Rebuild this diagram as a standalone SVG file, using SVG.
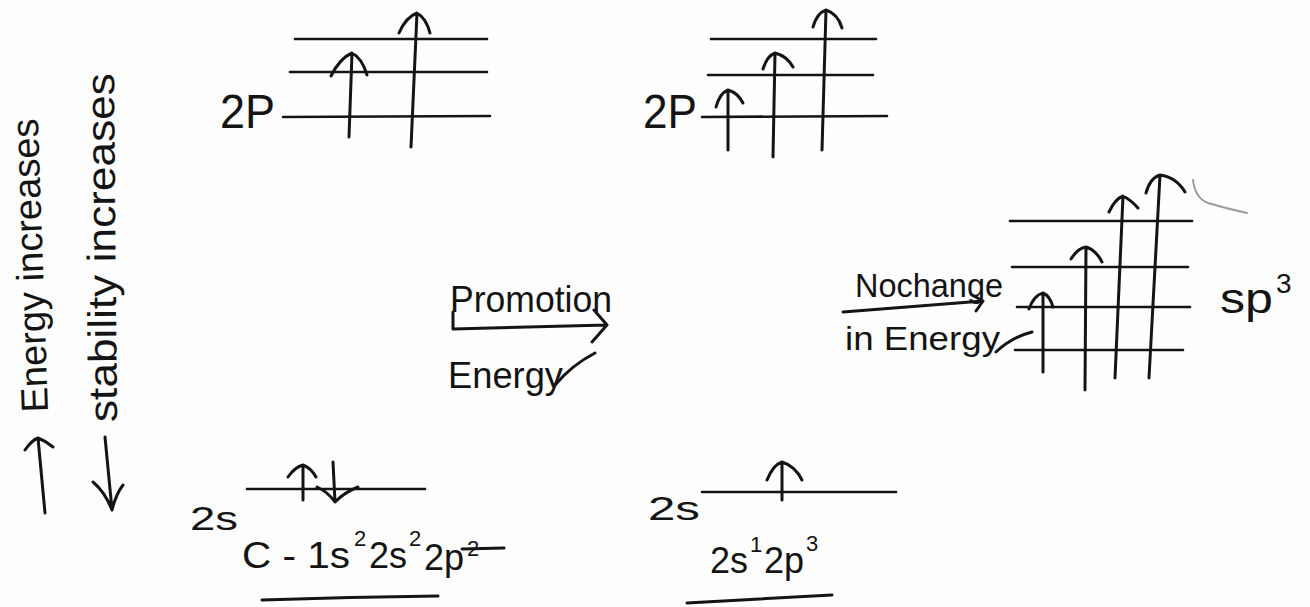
<svg xmlns="http://www.w3.org/2000/svg" width="1310" height="607" viewBox="0 0 1310 607">
<style>
.ink{fill:none;stroke:#141414;stroke-width:3;stroke-linecap:round;stroke-linejoin:round}
.lvl{fill:none;stroke:#141414;stroke-width:2.6;stroke-linecap:round}
.t{font-family:"Liberation Sans","DejaVu Sans",sans-serif;fill:#141414}
.faint{fill:none;stroke:#9a9a9a;stroke-width:2;stroke-linecap:round}
</style>
<rect width="1310" height="607" fill="#fefefe"/>

<g id="energy-axis">
  <text class="t" font-size="38" transform="translate(48,412) rotate(-92)" textLength="294" lengthAdjust="spacingAndGlyphs">Energy increases</text>
  <path class="ink" d="M45,513 L38,438 M25,450 Q32,440 38,438 Q46,441 53,447"/>
</g>

<g id="stability-axis">
  <text class="t" font-size="40" transform="translate(117,422) rotate(-90.5)" textLength="349" lengthAdjust="spacingAndGlyphs">stability increases</text>
  <path class="ink" d="M105,437 L112,510 M93,482 Q105,492 112,510 Q116,494 123,485"/>
</g>

<g id="ground-2p">
  <text class="t" font-size="48" x="220" y="128" textLength="55" lengthAdjust="spacingAndGlyphs">2P</text>
  <line class="lvl" x1="295" y1="39" x2="487" y2="39"/>
  <line class="lvl" x1="290" y1="72" x2="487" y2="72"/>
  <line class="lvl" x1="283" y1="117" x2="490" y2="116"/>
  <path class="ink" d="M349,137 L352,53 M331,76 Q340,58 352,53 Q362,58 367,75"/>
  <path class="ink" d="M411,147 L417,13 M399,33 Q406,17 417,13 Q426,18 430,33"/>
</g>

<g id="excited-2p">
  <text class="t" font-size="48" x="643" y="128" textLength="54" lengthAdjust="spacingAndGlyphs">2P</text>
  <line class="lvl" x1="711" y1="39" x2="876" y2="39"/>
  <line class="lvl" x1="708" y1="75" x2="873" y2="75"/>
  <line class="lvl" x1="702" y1="117" x2="887" y2="116"/>
  <path class="ink" d="M728,150 L728,90 M716,107 Q720,93 728,90 Q738,93 743,103"/>
  <path class="ink" d="M773,157 L775,53 M763,69 Q767,56 775,53 Q787,56 793,67"/>
  <path class="ink" d="M822,150 L826,10 M813,27 Q817,13 826,10 Q838,14 842,28"/>
</g>

<g id="sp3">
  <line class="lvl" x1="1010" y1="221" x2="1192" y2="221"/>
  <line class="lvl" x1="1012" y1="267" x2="1188" y2="267"/>
  <line class="lvl" x1="1017" y1="307" x2="1190" y2="307"/>
  <line class="lvl" x1="1015" y1="350" x2="1183" y2="350"/>
  <path class="ink" d="M1043,372 L1043,293 M1029,309 Q1034,295 1043,293 Q1050,296 1053,307"/>
  <path class="ink" d="M1085,390 L1086,247 M1071,259 Q1078,248 1086,247 Q1096,250 1102,262"/>
  <path class="ink" d="M1115,378 L1123,196 M1109,212 Q1115,199 1123,196 Q1131,200 1138,208"/>
  <path class="ink" d="M1149,378 L1160,175 M1146,193 Q1150,178 1160,175 Q1176,177 1185,192"/>
  <path class="faint" d="M1193,180 Q1195,198 1208,203 Q1228,209 1247,213"/>
  <text class="t" font-size="42" x="1220" y="313" textLength="53" lengthAdjust="spacingAndGlyphs">sp</text>
  <text class="t" font-size="28" x="1276" y="293">3</text>
</g>

<g id="ground-2s">
  <text class="t" font-size="34" x="190" y="530" textLength="48" lengthAdjust="spacingAndGlyphs">2s</text>
  <line class="lvl" x1="247" y1="489" x2="425" y2="489"/>
  <path class="ink" d="M303,500 L303,465 M288,477 Q295,467 303,465 Q311,468 316,477"/>
  <path class="ink" d="M333,462 L335,502 M317,487 Q328,492 335,502 Q345,492 358,487"/>
</g>

<g id="ground-config">
  <text class="t" font-size="36" x="242" y="568" textLength="108" lengthAdjust="spacingAndGlyphs">C - 1s</text>
  <text class="t" font-size="22" x="354" y="546">2</text>
  <text class="t" font-size="36" x="369" y="568">2s</text>
  <text class="t" font-size="22" x="409" y="546">2</text>
  <text class="t" font-size="36" x="424" y="570">2p</text>
  <text class="t" font-size="22" x="467" y="556">2</text>
  <path class="ink" d="M462,549 L504,548"/>
  <path class="ink" d="M262,600 Q350,597 438,596"/>
</g>

<g id="excited-2s">
  <text class="t" font-size="34" x="648" y="520" textLength="52" lengthAdjust="spacingAndGlyphs">2s</text>
  <line class="lvl" x1="702" y1="492" x2="896" y2="492"/>
  <path class="ink" d="M782,500 L782,462 M767,480 Q773,465 782,462 Q795,466 802,480"/>
</g>

<g id="excited-config">
  <text class="t" font-size="36" x="710" y="573">2s</text>
  <text class="t" font-size="22" x="750" y="552">1</text>
  <text class="t" font-size="36" x="764" y="573">2p</text>
  <text class="t" font-size="22" x="806" y="551">3</text>
  <path class="ink" d="M687,603 L832,595"/>
</g>

<g id="promotion-label">
  <text class="t" font-size="36" x="450" y="312" textLength="162" lengthAdjust="spacingAndGlyphs">Promotion</text>
  <text class="t" font-size="36" x="448" y="388" textLength="115" lengthAdjust="spacingAndGlyphs">Energy</text>
  <path class="ink" d="M556,384 Q572,365 595,353"/>
</g>

<g id="nochange-label">
  <text class="t" font-size="34" x="855" y="297" textLength="148" lengthAdjust="spacingAndGlyphs">Nochange</text>
  <text class="t" font-size="34" x="845" y="350" textLength="155" lengthAdjust="spacingAndGlyphs">in Energy</text>
  <path class="ink" d="M996,352 Q1012,337 1032,332"/>
</g>

<g id="connectors">
  <path class="ink" d="M453,312 L453,329 L607,325 M594,310 L607,325 L592,342"/>
  <path class="ink" d="M843,312 L983,301 M972,295 L983,301 L976,311"/>
</g>
</svg>
